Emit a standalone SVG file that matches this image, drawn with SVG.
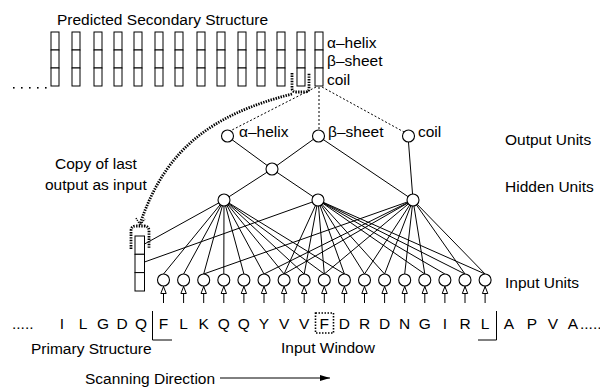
<svg xmlns="http://www.w3.org/2000/svg" width="600" height="387" viewBox="0 0 600 387">
  <style>
    text { font-family: "Liberation Sans", Arial, sans-serif; font-size: 15.5px; fill: #000; }
    .cell { fill: #fff; stroke: #000; stroke-width: 1; }
    .unit { fill: #fff; stroke: #000; stroke-width: 1.1; }
    .link { stroke: #000; stroke-width: 1; fill: none; }
    .thin-dot { stroke: #000; stroke-width: 1; fill: none; stroke-dasharray: 2 2; }
    .thick-dot { stroke: #000; stroke-width: 2.8; fill: none; stroke-dasharray: 1.4 1.2; }
    .mid { text-anchor: middle; }
  </style>
  <defs>
    <marker id="hollow" viewBox="0 0 8 8" refX="8" refY="4" markerWidth="8" markerHeight="8" markerUnits="userSpaceOnUse" orient="auto">
      <path d="M0.5,1.3 L7.5,4 L0.5,6.7 Z" fill="#fff" stroke="#000" stroke-width="1"/>
    </marker>
    <marker id="solid" viewBox="0 0 10 6" refX="10" refY="3" markerWidth="10" markerHeight="6" markerUnits="userSpaceOnUse" orient="auto">
      <path d="M0,0 L10,3 L0,6 Z" fill="#000"/>
    </marker>
    <g id="col">
      <rect class="cell" x="0" y="0" width="8" height="18"/>
      <rect class="cell" x="0" y="18" width="8" height="18"/>
      <rect class="cell" x="0" y="36" width="8" height="18"/>
    </g>
  </defs>

  <!-- predicted secondary structure strip -->
  <g id="predicted">
    <text x="57" y="25">Predicted Secondary Structure</text>
    <use href="#col" x="51" y="32"/>
    <use href="#col" x="72" y="32"/>
    <use href="#col" x="94" y="32"/>
    <use href="#col" x="114" y="32"/>
    <use href="#col" x="134" y="32"/>
    <use href="#col" x="155" y="32"/>
    <use href="#col" x="175" y="32"/>
    <use href="#col" x="197" y="32"/>
    <use href="#col" x="217" y="32"/>
    <use href="#col" x="238" y="32"/>
    <use href="#col" x="257" y="32"/>
    <use href="#col" x="277" y="32"/>
    <use href="#col" x="297" y="32"/>
    <use href="#col" x="315" y="32"/>
    <text x="327" y="48">α–helix</text>
    <text x="327" y="66">β–sheet</text>
    <text x="327" y="85">coil</text>
    <g fill="#000">
      <rect x="13" y="87" width="1.6" height="1.6"/>
      <rect x="21" y="87" width="1.6" height="1.6"/>
      <rect x="29" y="87" width="1.6" height="1.6"/>
      <rect x="37" y="87" width="1.6" height="1.6"/>
      <rect x="45" y="87" width="1.6" height="1.6"/>
    </g>
    <!-- highlight round the last coil cell -->
    <path class="thick-dot" d="M292,73 V88 Q292,92 296,92 H305 Q309,92 309,88 V73"/>
  </g>

  <!-- copied context column -->
  <g id="context">
    <rect class="cell" x="135" y="236" width="9.5" height="18.3"/>
    <rect class="cell" x="135" y="254.3" width="9.5" height="18.3"/>
    <rect class="cell" x="135" y="272.6" width="9.5" height="18.4"/>
    <path class="thick-dot" d="M131,249 V231 Q131,226 136,226 H144 Q149,226 149,231 V249"/>
  </g>

  <g id="connectors">
    <!-- dotted feed from the current output column -->
    <line class="thin-dot" x1="316" y1="87" x2="230" y2="131"/>
    <line class="thin-dot" x1="319" y1="87" x2="319" y2="130"/>
    <line class="thin-dot" x1="322" y1="87" x2="404" y2="132"/>
    <!-- copy of last output fed back -->
    <path class="thick-dot" d="M292,94 C210,115 165,150 140,224"/>
    <path d="M136,218 L140,225 L145,219" fill="none" stroke="#000" stroke-width="1.4" stroke-dasharray="1.2 1"/>

    <!-- output to hidden -->
    <line class="link" x1="227" y1="136" x2="272" y2="169"/>
    <line class="link" x1="318" y1="136" x2="272" y2="169"/>
    <line class="link" x1="318" y1="136" x2="413" y2="200"/>
    <line class="link" x1="408" y1="136" x2="413" y2="200"/>
    <line class="link" x1="272" y1="169" x2="224" y2="200"/>
    <line class="link" x1="272" y1="169" x2="318" y2="200"/>

    <!-- hidden to context column -->
    <line class="link" x1="224" y1="200" x2="144.5" y2="244"/>
    <line class="link" x1="318" y1="200" x2="144.5" y2="262"/>

    <!-- left hidden unit to inputs -->
    <g class="link">
      <line x1="224" y1="200" x2="163.5" y2="274"/>
      <line x1="224" y1="200" x2="183.6" y2="274"/>
      <line x1="224" y1="200" x2="203.7" y2="274"/>
      <line x1="224" y1="200" x2="223.8" y2="274"/>
      <line x1="224" y1="200" x2="243.9" y2="274"/>
      <line x1="224" y1="200" x2="264" y2="274"/>
      <line x1="224" y1="200" x2="284.1" y2="274"/>
      <line x1="224" y1="200" x2="304.2" y2="274"/>
      <line x1="224" y1="200" x2="324.3" y2="274"/>
      <line x1="224" y1="200" x2="344.4" y2="274"/>
    </g>
    <!-- middle hidden unit to inputs -->
    <g class="link">
      <line x1="318" y1="200" x2="284.1" y2="274"/>
      <line x1="318" y1="200" x2="304.2" y2="274"/>
      <line x1="318" y1="200" x2="324.3" y2="274"/>
      <line x1="318" y1="200" x2="344.4" y2="274"/>
      <line x1="318" y1="200" x2="364.5" y2="274"/>
      <line x1="318" y1="200" x2="384.6" y2="274"/>
      <line x1="318" y1="200" x2="424.8" y2="274"/>
      <line x1="318" y1="200" x2="444.9" y2="274"/>
      <line x1="318" y1="200" x2="465" y2="274"/>
      <line x1="318" y1="200" x2="485.1" y2="274"/>
    </g>
    <!-- right hidden unit to inputs -->
    <g class="link">
      <line x1="413" y1="200" x2="203.7" y2="274"/>
      <line x1="413" y1="200" x2="264" y2="274"/>
      <line x1="413" y1="200" x2="284.1" y2="274"/>
      <line x1="413" y1="200" x2="324.3" y2="274"/>
      <line x1="413" y1="200" x2="364.5" y2="274"/>
      <line x1="413" y1="200" x2="384.6" y2="274"/>
      <line x1="413" y1="200" x2="404.7" y2="274"/>
      <line x1="413" y1="200" x2="424.8" y2="274"/>
      <line x1="413" y1="200" x2="465" y2="274"/>
      <line x1="413" y1="200" x2="485.1" y2="274"/>
    </g>

    <!-- residues into input units -->
    <g class="link" marker-end="url(#hollow)">
      <line x1="163.5" y1="303" x2="163.5" y2="286"/>
      <line x1="183.6" y1="303" x2="183.6" y2="286"/>
      <line x1="203.7" y1="303" x2="203.7" y2="286"/>
      <line x1="223.8" y1="303" x2="223.8" y2="286"/>
      <line x1="243.9" y1="303" x2="243.9" y2="286"/>
      <line x1="264" y1="303" x2="264" y2="286"/>
      <line x1="284.1" y1="303" x2="284.1" y2="286"/>
      <line x1="304.2" y1="303" x2="304.2" y2="286"/>
      <line x1="324.3" y1="303" x2="324.3" y2="286"/>
      <line x1="344.4" y1="303" x2="344.4" y2="286"/>
      <line x1="364.5" y1="303" x2="364.5" y2="286"/>
      <line x1="384.6" y1="303" x2="384.6" y2="286"/>
      <line x1="404.7" y1="303" x2="404.7" y2="286"/>
      <line x1="424.8" y1="303" x2="424.8" y2="286"/>
      <line x1="444.9" y1="303" x2="444.9" y2="286"/>
      <line x1="465" y1="303" x2="465" y2="286"/>
      <line x1="485.1" y1="303" x2="485.1" y2="286"/>
    </g>

    <!-- scanning direction -->
    <line class="link" x1="220" y1="378" x2="330" y2="378" marker-end="url(#solid)"/>
  </g>

  <!-- output units -->
  <g id="out-helix"><circle class="unit" cx="227.5" cy="136" r="6"/><text x="239" y="137">α–helix</text></g>
  <g id="out-sheet"><circle class="unit" cx="318.5" cy="136" r="6"/><text x="328" y="137">β–sheet</text></g>
  <g id="out-coil"><circle class="unit" cx="408.5" cy="136" r="6"/><text x="418" y="137">coil</text></g>

  <!-- hidden units -->
  <g id="hid-top"><circle class="unit" cx="272" cy="169" r="6"/></g>
  <g id="hid-left"><circle class="unit" cx="224" cy="200" r="6"/></g>
  <g id="hid-mid"><circle class="unit" cx="318" cy="200" r="6"/></g>
  <g id="hid-right"><circle class="unit" cx="413" cy="200" r="6"/></g>

  <!-- input units -->
  <g id="inputs">
    <circle class="unit" cx="163.5" cy="280" r="6"/>
    <circle class="unit" cx="183.6" cy="280" r="6"/>
    <circle class="unit" cx="203.7" cy="280" r="6"/>
    <circle class="unit" cx="223.8" cy="280" r="6"/>
    <circle class="unit" cx="243.9" cy="280" r="6"/>
    <circle class="unit" cx="264" cy="280" r="6"/>
    <circle class="unit" cx="284.1" cy="280" r="6"/>
    <circle class="unit" cx="304.2" cy="280" r="6"/>
    <circle class="unit" cx="324.3" cy="280" r="6"/>
    <circle class="unit" cx="344.4" cy="280" r="6"/>
    <circle class="unit" cx="364.5" cy="280" r="6"/>
    <circle class="unit" cx="384.6" cy="280" r="6"/>
    <circle class="unit" cx="404.7" cy="280" r="6"/>
    <circle class="unit" cx="424.8" cy="280" r="6"/>
    <circle class="unit" cx="444.9" cy="280" r="6"/>
    <circle class="unit" cx="465" cy="280" r="6"/>
    <circle class="unit" cx="485.1" cy="280" r="6"/>
  </g>

  <!-- layer labels -->
  <g id="labels">
    <text x="505" y="145">Output Units</text>
    <text x="505" y="192">Hidden Units</text>
    <text x="505" y="288">Input Units</text>
    <text x="55" y="169">Copy of last</text>
    <text x="45" y="190">output as input</text>
  </g>

  <!-- primary structure sequence -->
  <g id="sequence">
    <text x="12" y="329">.....</text>
    <text class="mid" x="62" y="329">I</text>
    <text class="mid" x="83" y="329">L</text>
    <text class="mid" x="103" y="329">G</text>
    <text class="mid" x="122" y="329">D</text>
    <text class="mid" x="141" y="329">Q</text>
    <text class="mid" x="163.5" y="329">F</text>
    <text class="mid" x="183.6" y="329">L</text>
    <text class="mid" x="203.7" y="329">K</text>
    <text class="mid" x="223.8" y="329">Q</text>
    <text class="mid" x="243.9" y="329">Q</text>
    <text class="mid" x="264" y="329">Y</text>
    <text class="mid" x="284.1" y="329">V</text>
    <text class="mid" x="304.2" y="329">V</text>
    <text class="mid" x="324.3" y="329">F</text>
    <text class="mid" x="344.4" y="329">D</text>
    <text class="mid" x="364.5" y="329">R</text>
    <text class="mid" x="384.6" y="329">D</text>
    <text class="mid" x="404.7" y="329">N</text>
    <text class="mid" x="424.8" y="329">G</text>
    <text class="mid" x="444.9" y="329">I</text>
    <text class="mid" x="465" y="329">R</text>
    <text class="mid" x="485.1" y="329">L</text>
    <text class="mid" x="509" y="329">A</text>
    <text class="mid" x="532" y="329">P</text>
    <text class="mid" x="553" y="329">V</text>
    <text class="mid" x="573" y="329">A</text>
    <text x="580" y="329">.....</text>
    <!-- input window brackets -->
    <path class="link" d="M152.5,311 V340 H172"/>
    <path class="link" d="M496.5,311 V340 H478"/>
    <!-- current residue -->
    <rect x="315.5" y="313" width="18" height="20" fill="none" stroke="#000" stroke-width="1.6" stroke-dasharray="1.5 1.5"/>
    <text x="31" y="354">Primary Structure</text>
    <text x="281" y="353">Input Window</text>
    <text x="85" y="384">Scanning Direction</text>
  </g>
</svg>
